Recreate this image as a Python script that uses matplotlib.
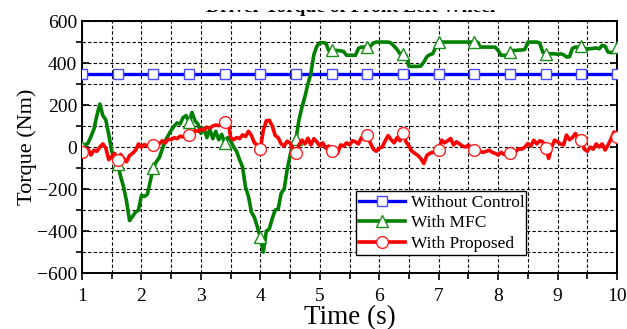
import numpy as np
import matplotlib
matplotlib.use("Agg")
import matplotlib.pyplot as plt
from matplotlib.patches import Rectangle

plt.rcParams['font.family'] = ['Liberation Serif', 'DejaVu Serif']

# time axis, 0.05 s sampling from 1 s to 10 s
t_start = 1.0
t_step = 0.05

no_control = [350.0] * 181

mfc = [0, 10, 18, 50, 85, 150, 205, 150, 130, 60,
       -20, -55, -80, -140, -190, -260, -350, -330, -310, -300,
       -230, -235, -225, -160, -100, -70, -50, -10, 30, 55,
       80, 100, 115, 110, 140, 150, 120, 165, 125, 110,
       65, 90, 45, 85, 40, 75, 35, 60, 20, 45,
       30, 0, -20, -60, -95, -190, -235, -310, -335, -380,
       -430, -500, -400, -390, -340, -300, -295, -220, -200, -110,
       -40, 20, 40, 130, 190, 240, 300, 350, 440, 480,
       497, 497, 495, 460, 460, 460, 460, 458, 455, 437,
       437, 437, 437, 470, 476, 476, 478, 480, 495, 500,
       500, 500, 500, 500, 495, 480, 465, 444, 444, 437,
       384, 384, 384, 384, 386, 405, 430, 440, 444, 476,
       500, 500, 500, 500, 500, 500, 500, 500, 500, 500,
       500, 500, 500, 500, 476, 476, 476, 476, 476, 476,
       460, 437, 437, 437, 455, 460, 460, 462, 462, 465,
       500, 500, 500, 500, 495, 452, 445, 444, 444, 444,
       442, 444, 440, 429, 430, 470, 476, 476, 480, 470,
       468, 468, 470, 472, 468, 484, 480, 452, 450, 452,
       476]

proposed = [-25, -45, -10, -38, -15, -20, 0, 15, -5, -60,
            -45, -30, -60, -35, -55, -70, -40, -30, -15, 15,
            0, 12, 5, 10, 8, 0, 15, 30, 20, 38,
            35, 45, 40, 52, 48, 58, 56, 68, 78, 75,
            85, 80, 95, 90, 100, 105, 102, 112, 119, 135,
            45, 35, 45, 40, 58, 50, 75, 55, 20, 10,
            -8, 80, 125, 128, 100, 55, 45, 15, 5, 28,
            20, -14, -30, 10, 33, 15, 42, 10, 40, 25,
            5, 20, -5, 5, -18, -35, -30, 10, 5, 20,
            10, 30, 25, 15, 45, 35, 57, 20, -10, -20,
            -5, 0, 30, 55, 35, 20, 45, 30, 65, 25,
            5, -20, -30, -40, -55, -78, -40, -30, -25, -20,
            -14, 33, 20, 30, 41, 10, 25, 15, 5, 0,
            10, -5, -14, -30, -22, -25, -20, -15, -25, -30,
            -38, -25, -35, -28, -30, -15, -20, -8, -10, 0,
            17, 5, 33, 15, 30, 25, -5, -54, 0, 33,
            25, 15, 10, 57, 35, 45, 65, 35, 33, -10,
            -20, 0, -10, 15, 0, 15, -14, 10, 40, 72,
            49]

labels = ["Without Control", "With MFC", "With Proposed"]

t = t_start + t_step * np.arange(len(mfc))

fig = plt.figure(figsize=(6.27, 3.29), dpi=100)
ax = fig.add_axes([0.1308, 0.170, 0.8533, 0.766])

mk = 12  # one marker every 0.6 s
ax.plot(t, no_control, color="#0000ff", lw=2.4, marker="s", markevery=mk,
        markersize=6.5, markerfacecolor="white", markeredgecolor="#4a4aff",
        markeredgewidth=1.0, label=labels[0], zorder=3)
ax.plot(t, mfc, color="#008000", lw=2.6, marker="^", markevery=mk,
        markersize=8.5, markerfacecolor="white", markeredgecolor="#1a8c1a",
        markeredgewidth=1.0, label=labels[1], zorder=3)
ax.plot(t, proposed, color="#ff0000", lw=2.6, marker="o", markevery=mk,
        markersize=8.5, markerfacecolor="white", markeredgecolor="#ff2020",
        markeredgewidth=1.0, label=labels[2], zorder=4)

ax.set_xlim(1, 10)
ax.set_ylim(-600, 600)
ax.set_xticks(np.arange(1, 11, 1))
ax.set_xticks(np.arange(1.5, 10, 1), minor=True)
ax.set_yticks(np.arange(-600, 601, 200))
ax.set_yticks(np.arange(-500, 600, 200), minor=True)

ax.grid(True, which="both", color="black", linestyle=(0, (3, 2)), linewidth=0.8)
ax.set_axisbelow(True)
for s in ax.spines.values():
    s.set_linewidth(1.4)

ax.tick_params(axis="both", which="both", direction="out", labelsize=14,
               width=1.2, colors="black")
ax.tick_params(axis="both", which="major", length=5)
ax.tick_params(axis="both", which="minor", length=4)
ax.tick_params(axis="x", which="major", pad=6)
ax.tick_params(axis="y", which="major", right=True, direction="in")

ax.set_xlabel("Time (s)", fontsize=19.5, labelpad=0)
ax.set_ylabel("Torque (Nm)", fontsize=16, labelpad=0)

leg = ax.legend(loc="lower left", bbox_to_anchor=(0.512, 0.071, 0.317, 0.271),
                mode="expand", fontsize=12.5, frameon=True, fancybox=False,
                borderpad=0.2, labelspacing=0.25, handlelength=2.6,
                handletextpad=0.4, borderaxespad=0)
leg.get_frame().set_edgecolor("black")
leg.get_frame().set_linewidth(1.0)
leg.get_frame().set_alpha(1)

# title is cut off at the top in the reference
fig.text(0.56, 1 - 12.5 / 329, "Driver Torque of Front Left Wheel",
         ha="center", va="baseline", fontsize=14, fontweight="bold")
fig.patches.append(Rectangle((0, 1 - 9.5 / 329), 1, 9.5 / 329, transform=fig.transFigure,
                             facecolor="white", edgecolor="none", zorder=10))

fig.savefig("out.png", dpi=100)
